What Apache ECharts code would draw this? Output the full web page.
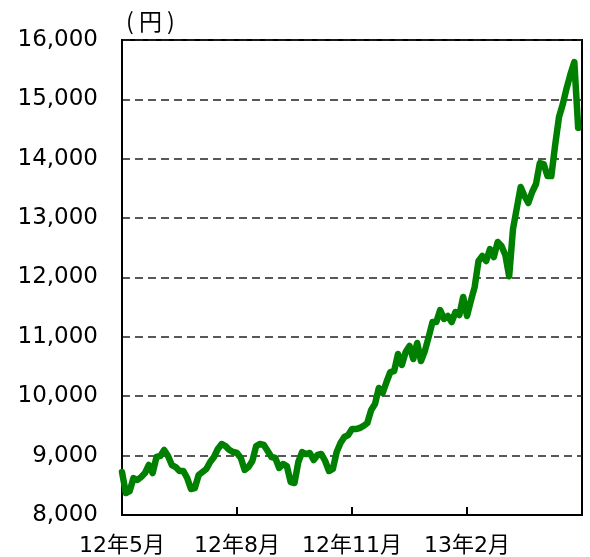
<!DOCTYPE html>
<html>
<head>
<meta charset="utf-8">
<script src="https://cdn.jsdelivr.net/npm/echarts@6/dist/echarts.min.js"></script>
<style>
  html, body { margin: 0; padding: 0; background: #fff; }
  #chart { width: 590px; height: 557px; }
</style>
</head>
<body>
<div id="chart"></div>
<script>
  // 日経平均 終値（円）、営業日をおよそ2日おきに読み取り
  const prices = [
    8724, 8370, 8404, 8623, 8589, 8640, 8707, 8842, 8707, 8977,
    8994, 9095, 8994, 8842, 8808, 8741, 8741, 8623, 8438, 8455,
    8674, 8724, 8775, 8893, 8977, 9112, 9196, 9162, 9095, 9061,
    9044, 8960, 8758, 8808, 8909, 9162, 9196, 9179, 9078, 8977,
    8960, 8792, 8859, 8825, 8556, 8539, 8893, 9061, 9027, 9044,
    8926, 9011, 9027, 8909, 8741, 8775, 9061, 9213, 9314, 9347,
    9448, 9448, 9465, 9499, 9549, 9768, 9869, 10139, 10055, 10240,
    10408, 10425, 10712, 10526, 10745, 10846, 10627, 10897, 10594, 10762,
    10998, 11250, 11250, 11453, 11301, 11352, 11250, 11419, 11368, 11672,
    11352, 11604, 11840, 12278, 12362, 12278, 12480, 12345, 12598, 12530,
    12380, 12020, 12817, 13170, 13524, 13373, 13255, 13440, 13575, 13928,
    13911, 13709, 13709, 14232, 14703, 14922, 15191, 15427, 15629, 14520
  ];
  // 横軸の区切り（30点ごと）
  const tickLabels = ['12年5月', '12年8月', '12年11月', '13年2月'];
  const tickEvery = 30;
  const categories = Array.from({ length: 121 }, (_, i) => String(i));
  const yMin = 8000, yMax = 16000, yStep = 1000;

  const chart = echarts.init(document.getElementById('chart'));
  const font = "'DejaVu Sans', 'Noto Sans CJK JP', sans-serif";
  const option = {
    animation: false,
    graphic: [{
      type: 'text',
      left: 126,
      top: 10,
      style: {
        text: '( 円 )', fill: '#000',
        fontSize: 23, fontFamily: 'Noto Sans CJK JP'
      }
    }],
    grid: {
      left: 122, right: 8, top: 40, bottom: 41,
      show: true, borderColor: '#000', borderWidth: 2
    },
    xAxis: {
      type: 'category',
      data: categories,
      boundaryGap: false,
      axisLine: { lineStyle: { color: '#000', width: 2 } },
      axisTick: {
        inside: true, length: 8,
        lineStyle: { color: '#000', width: 2 },
        interval: (i) => i > 0 && i % tickEvery === 0
      },
      axisLabel: {
        interval: (i) => i % tickEvery === 0,
        formatter: (v, i) => tickLabels[i / tickEvery] || '',
        color: '#000', fontSize: 22, fontFamily: font, margin: 20
      },
      splitLine: { show: false }
    },
    yAxis: {
      type: 'value',
      min: yMin, max: yMax, interval: yStep,
      axisLine: { show: true, lineStyle: { color: '#000', width: 2 } },
      axisTick: { show: false },
      axisLabel: {
        color: '#000', fontSize: 23, fontFamily: font, margin: 24,
        formatter: (v) => v.toLocaleString('en-US')
      },
      splitLine: { lineStyle: { color: '#222', width: 1.5, type: [8, 5] } }
    },
    series: [{
      type: 'line',
      data: prices,
      showSymbol: false,
      lineStyle: { color: '#008000', width: 6.5, cap: 'round', join: 'round' }
    }]
  };
  chart.setOption(option);
</script>
</body>
</html>
